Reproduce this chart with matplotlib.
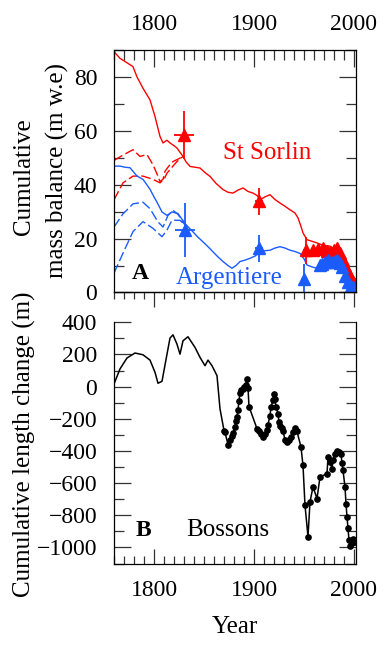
import matplotlib
matplotlib.use("Agg")
import matplotlib.pyplot as plt
from matplotlib.ticker import MultipleLocator, NullFormatter

plt.rcParams['font.family'] = ['Liberation Serif', 'DejaVu Serif']

RED = '#ff0000'
BLUE = '#1a5cff'

# ---------------- Panel A data ----------------
sorlin_years = [1760, 1766, 1772, 1779, 1783, 1789, 1796, 1801, 1806, 1809, 1813, 1816, 1820, 1823,
                1829, 1832, 1836, 1841, 1846, 1851, 1856, 1862, 1869, 1874, 1879, 1884, 1889, 1894,
                1899, 1903, 1906, 1911, 1916, 1921, 1926, 1931, 1936, 1941, 1944, 1947, 1949, 1953,
                1958, 1963, 1969, 1976, 1981, 1986, 1990, 1993, 1997, 2001]
sorlin_mb = [89.4, 86.9, 85.5, 83.8, 80, 75.8, 71.5, 65.3, 57.9, 55.5, 56.5, 55.5, 54.5, 53.6,
             50.5, 48.5, 46.8, 46.5, 46.2, 44.5, 43.1, 40.5, 38.2, 37.2, 36.9, 38, 38.8, 37.5,
             36.9, 36, 34.4, 35.5, 36.3, 34.5, 33.2, 32, 30.7, 29.5, 27.7, 24.5, 22.1, 19.6,
             19, 18.4, 17.5, 17.2, 16, 14.7, 12, 8.6, 5.5, 2.5]

argent_years = [1760, 1766, 1771, 1776, 1783, 1789, 1796, 1800, 1803, 1808, 1813, 1818, 1824, 1831,
                1835, 1839, 1844, 1849, 1854, 1859, 1864, 1869, 1874, 1878, 1882, 1886, 1891, 1896,
                1901, 1906, 1911, 1916, 1921, 1926, 1931, 1936, 1941, 1946, 1950, 1953, 1958, 1963,
                1968, 1973, 1979, 1983, 1986, 1990, 1993, 1997, 2000]
argent_mb = [46.9, 46.9, 46.5, 46.3, 43.2, 42, 38.3, 35.5, 33.5, 29.9, 28.6, 29.9, 29.3, 25.6,
             24, 22.5, 20.5, 18.8, 17, 15.1, 13.2, 11.5, 10, 9, 10, 11.5, 12, 12.7,
             13.5, 15.1, 15.5, 15.7, 16.5, 17, 16.5, 15.7, 15.2, 14.5, 12.5, 10.2, 9.5, 9,
             10.5, 12, 12.7, 12, 10.2, 7.5, 5.3, 3.5, 2.2]

sorlin_up_years = [1760, 1769, 1779, 1786, 1793, 1799, 1803, 1806, 1809, 1811, 1815, 1819, 1824, 1829]
sorlin_up_mb = [49, 51, 53, 50.5, 51.2, 47.4, 44, 41.2, 42, 45, 47, 48.6, 49.5, 50.5]
sorlin_lo_years = [1760, 1769, 1779, 1789, 1799, 1806, 1810, 1813, 1818, 1823, 1829]
sorlin_lo_mb = [34.4, 40.7, 43.2, 43.2, 42, 40.7, 42, 44.3, 46.5, 48.6, 50.5]

argent_up_years = [1760, 1769, 1779, 1789, 1796, 1804, 1809, 1814, 1819, 1824, 1828, 1831]
argent_up_mb = [24.3, 29.2, 32.9, 33.5, 31.1, 26.2, 24.3, 28.6, 30.5, 29, 26.8, 25]
argent_lo_years = [1760, 1769, 1779, 1789, 1799, 1808, 1813, 1818, 1826, 1831]
argent_lo_mb = [7.2, 14.6, 22.6, 26.3, 23.8, 20.7, 23.2, 26.8, 26.8, 25]

sorlin_obs_years = [1830, 1905, 1952]
sorlin_obs_mb = [58.5, 33.8, 15.7]
sorlin_obs_yerr = [9, 5, 5]
sorlin_obs_xerr = [10, 4, 3]
sorlin_meas_years = [1959, 1964, 1969, 1973, 1976, 1980, 1983, 1986, 1989, 1991, 1994, 1996, 1999, 2001]
sorlin_meas_mb = [15.7, 16, 16.4, 15.5, 15.1, 15.8, 16.4, 14.6, 12, 9.7, 7.5, 6, 4, 3]

argent_obs_years = [1831, 1905, 1950]
argent_obs_mb = [23.3, 16.5, 5]
argent_obs_yerr = [10, 5, 5.5]
argent_obs_xerr = [10, 4, 3]
argent_meas_years = [1966, 1968, 1971, 1974, 1977, 1979, 1981, 1983, 1986, 1988, 1991, 1994, 1997, 1999]
argent_meas_mb = [10.2, 10.6, 11.3, 11.9, 11.5, 11.3, 11.6, 11.9, 10.8, 9.4, 6.3, 3.8, 2.5, 1.9]

# ---------------- Panel B data ----------------
bossons_rec_years = [1760, 1766, 1773, 1781, 1789, 1796, 1801, 1804, 1808, 1813, 1816, 1819, 1823,
                     1826, 1829, 1834, 1841, 1846, 1851, 1854, 1858, 1863, 1866, 1870]
bossons_rec_len = [16, 110, 178, 209, 198, 165, 89, 21, 33, 202, 302, 322, 264,
                   202, 285, 310, 244, 182, 130, 165, 130, 68, -138, -273]

bossons_obs_years = [1870, 1871, 1874, 1876, 1878, 1879, 1881, 1882, 1883, 1884, 1885, 1886, 1887,
                     1889, 1890, 1892, 1893, 1894, 1895, 1903, 1905, 1907, 1909, 1911, 1913, 1914,
                     1916, 1917, 1919, 1920, 1921, 1922, 1924, 1925, 1926, 1928, 1929, 1931, 1933,
                     1935, 1937, 1939, 1941, 1943, 1947, 1949, 1951, 1954, 1956, 1959, 1963, 1966,
                     1973, 1974, 1976, 1978, 1979, 1981, 1983, 1985, 1987, 1988, 1989, 1991, 1992,
                     1993, 1994, 1995, 1996, 1998, 1999, 2001]
bossons_obs_len = [-273, -285, -360, -331, -310, -289, -252, -215, -186, -145, -87, -41, -19,
                   -12, 0, 12, 48, -8, -124, -262, -277, -293, -314, -293, -269, -236,
                   -180, -128, -83, -45, -79, -124, -169, -221, -242, -256, -277, -331, -343,
                   -335, -314, -283, -256, -279, -376, -490, -738, -934, -717, -624, -696, -562,
                   -541, -438, -469, -510, -455, -417, -401, -407, -421, -473, -521, -624, -727,
                   -810, -882, -954, -992, -971, -950, -965]

year_ticks = [1800, 1900, 2000]

W, H = 383, 645
fig = plt.figure(figsize=(W / 100, H / 100), dpi=100)

L, R = 114 / W, 356 / W
axA = fig.add_axes([L, 1 - 292.5 / H, R - L, (292.5 - 50) / H])
axB = fig.add_axes([L, 1 - 563.5 / H, R - L, (563.5 - 322.3) / H])

tick_kw = dict(labelsize=17, width=0.9, color='#333333')

# ---- Panel A ----
dash = (0, (7, 2.5))
axA.plot(sorlin_up_years, sorlin_up_mb, color=RED, lw=1.0, linestyle=dash)
axA.plot(sorlin_lo_years, sorlin_lo_mb, color=RED, lw=1.0, linestyle=dash)
axA.plot(argent_up_years, argent_up_mb, color=BLUE, lw=1.0, linestyle=dash)
axA.plot(argent_lo_years, argent_lo_mb, color=BLUE, lw=1.0, linestyle=dash)
axA.plot(sorlin_years, sorlin_mb, color=RED, lw=1.0)
axA.plot(argent_years, argent_mb, color=BLUE, lw=1.0)

axA.errorbar(sorlin_obs_years, sorlin_obs_mb, yerr=sorlin_obs_yerr, xerr=sorlin_obs_xerr,
             fmt='^', color=RED, ms=9, elinewidth=1.3, capsize=0)
axA.plot(sorlin_meas_years, sorlin_meas_mb, '^', color=RED, ms=9)
axA.errorbar(argent_obs_years, argent_obs_mb, yerr=argent_obs_yerr, xerr=argent_obs_xerr,
             fmt='^', color=BLUE, ms=9, elinewidth=1.3, capsize=0)
axA.plot(argent_meas_years, argent_meas_mb, '^', color=BLUE, ms=9)

axA.set_xlim(1760, 2002)
axA.set_ylim(0, 90)
axA.set_xticks(year_ticks)
axA.xaxis.set_minor_locator(MultipleLocator(10))
axA.yaxis.set_major_locator(MultipleLocator(20))
axA.yaxis.set_minor_locator(MultipleLocator(10))
axA.tick_params(axis='x', which='both', top=True, bottom=False, labeltop=True, labelbottom=False,
                direction='in', **tick_kw)
axA.tick_params(axis='x', which='major', length=12, pad=11)
axA.tick_params(axis='x', which='minor', length=7)
secA = axA.secondary_xaxis('bottom')
secA.set_xticks(year_ticks)
secA.xaxis.set_minor_locator(MultipleLocator(10))
secA.xaxis.set_major_formatter(NullFormatter())
secA.tick_params(axis='x', which='both', direction='out', width=0.9, color='#333333')
secA.tick_params(axis='x', which='major', length=11)
secA.tick_params(axis='x', which='minor', length=5)
secA.spines['bottom'].set_linewidth(0.9)

axA.tick_params(axis='y', which='both', left=True, right=True, direction='in', **tick_kw)
axA.tick_params(axis='y', which='major', length=12, pad=12)
axA.tick_params(axis='y', which='minor', length=7)
for sp in axA.spines.values():
    sp.set_linewidth(0.9)

axA.text(1913, 51.7, 'St Sorlin', color=RED, fontsize=18, ha='center', va='center')
axA.text(1875.5, 5.4, 'Argentiere', color=BLUE, fontsize=18, ha='center', va='center')
axA.text(1786, 7.2, 'A', color='black', fontsize=17, fontweight='bold', ha='center', va='center')

# ---- Panel B ----
axB.plot(bossons_rec_years + bossons_obs_years, bossons_rec_len + bossons_obs_len,
         color='black', lw=1.1)
axB.plot(bossons_obs_years, bossons_obs_len, 'o', color='black', ms=3.8)

axB.set_xlim(1760, 2002)
axB.set_ylim(-1100, 400)
axB.set_xticks(year_ticks)
axB.xaxis.set_minor_locator(MultipleLocator(10))
axB.yaxis.set_major_locator(MultipleLocator(200))
axB.yaxis.set_minor_locator(MultipleLocator(100))
axB.spines['top'].set_visible(False)
axB.tick_params(axis='x', which='both', top=False, bottom=True, direction='in', **tick_kw)
axB.tick_params(axis='x', which='major', length=11, pad=12)
axB.tick_params(axis='x', which='minor', length=6)
axB.tick_params(axis='y', which='both', left=True, right=True, direction='in', **tick_kw)
axB.tick_params(axis='y', which='major', length=12, pad=12)
axB.tick_params(axis='y', which='minor', length=7)
for sp in axB.spines.values():
    sp.set_linewidth(0.9)

axB.text(1789.5, -894, 'B', color='black', fontsize=17, fontweight='bold', ha='center', va='center')
axB.text(1873.5, -894, 'Bossons', color='black', fontsize=18, ha='center', va='center')

# ---- labels ----
fig.text(24 / W, 1 - 177 / H, 'Cumulative', rotation=90,
         ha='center', va='center', fontsize=18)
fig.text(57 / W, 1 - 170.5 / H, 'mass balance (m w.e)', rotation=90,
         ha='center', va='center', fontsize=18)
fig.text(24 / W, 1 - 444 / H, 'Cumulative length change (m)', rotation=90,
         ha='center', va='center', fontsize=18)
fig.text(235 / W, 1 - 627 / H, 'Year', ha='center', va='center', fontsize=18)

fig.savefig('out.png', dpi=100)
